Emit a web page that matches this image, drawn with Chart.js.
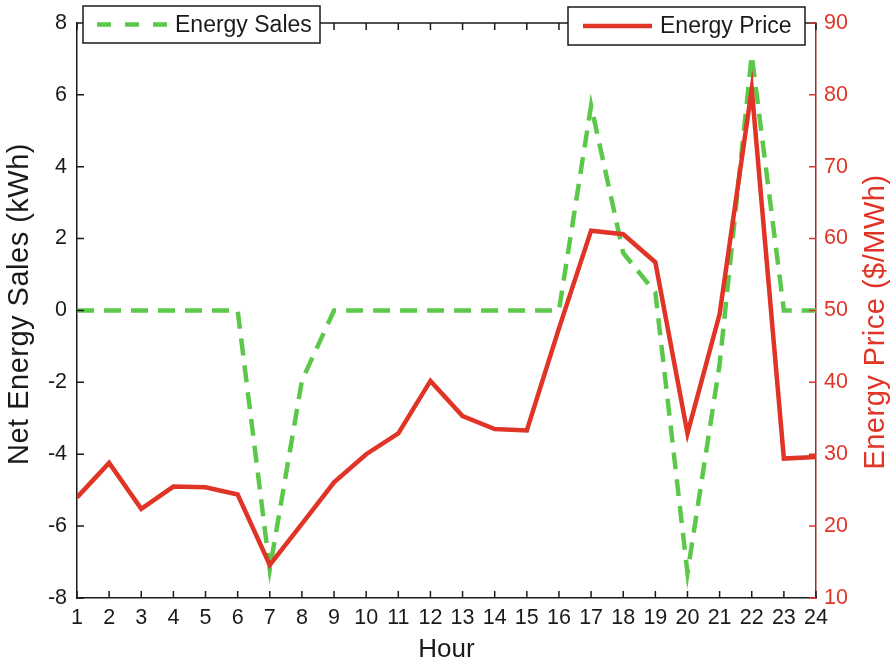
<!DOCTYPE html>
<html>
<head>
<meta charset="utf-8">
<script src="https://cdn.jsdelivr.net/npm/chart.js@4.4.1/dist/chart.umd.min.js"></script>
<style>
  html, body { margin: 0; padding: 0; background: #fff; }
  #wrap { width: 891px; height: 663px; }
</style>
</head>
<body>
<div id="wrap"><canvas id="chart" width="891" height="663"></canvas></div>
<script>
// data
const hours = [1, 2, 3, 4, 5, 6, 7, 8, 9, 10, 11, 12, 13, 14, 15, 16, 17, 18, 19, 20, 21, 22, 23, 24];
const salesKWh = [0, 0, 0, 0, 0, 0, -7.2, -1.95, 0, 0, 0, 0, 0, 0, 0, 0, 5.7, 1.6, 0.5, -7.3, -1.5, 7.1, 0, 0];
const priceMWh = [24.0, 28.8, 22.4, 25.5, 25.4, 24.4, 14.6, 20.3, 26.1, 30.0, 32.9, 40.2, 35.3, 33.5, 33.3, 47.5,
                  61.1, 60.6, 56.7, 32.9, 49.5, 80.8, 29.4, 29.6];
const salesTicks = [-8, -6, -4, -2, 0, 2, 4, 6, 8];
const priceTicks = [10, 20, 30, 40, 50, 60, 70, 80, 90];

const FONT = "'Liberation Sans', Arial, Helvetica, sans-serif";
const BLACK = '#1a1a1a';
const GREEN = '#5cc84a';
const RED = '#e03427';
const DARKRED = '#9b2f27';

const toPoints = (ys) => hours.map((h, i) => ({ x: h, y: ys[i] }));
const fixTicks = (list) => (scale) => { scale.ticks = list.map(v => ({ value: v })); };

// MATLAB style frame: top edge plus ticks pointing inward
const framePlugin = {
    id: 'frame',
    afterDatasetsDraw(chart) {
        const { ctx, chartArea: a, scales } = chart;
        ctx.save();
        ctx.lineWidth = 1.5;
        ctx.strokeStyle = BLACK;
        ctx.beginPath();
        ctx.moveTo(a.left, a.top);
        ctx.lineTo(a.right, a.top);
        hours.forEach(h => {
            const x = scales.x.getPixelForValue(h);
            ctx.moveTo(x, a.bottom); ctx.lineTo(x, a.bottom - 7);
            ctx.moveTo(x, a.top); ctx.lineTo(x, a.top + 7);
        });
        salesTicks.forEach(v => {
            const y = scales.y.getPixelForValue(v);
            ctx.moveTo(a.left, y); ctx.lineTo(a.left + 7, y);
        });
        ctx.stroke();
        ctx.strokeStyle = RED;
        ctx.beginPath();
        priceTicks.forEach(v => {
            const y = scales.y1.getPixelForValue(v);
            ctx.moveTo(a.right, y); ctx.lineTo(a.right - 7, y);
        });
        ctx.stroke();
        ctx.restore();
    }
};

// rotated axis titles (a bit larger than the horizontal text in the original)
function vTitle(ctx, text, x, y, color) {
    ctx.save();
    ctx.translate(x, y);
    ctx.rotate(-Math.PI / 2);
    ctx.font = '29px ' + FONT;
    ctx.letterSpacing = '0.5px';
    ctx.fillStyle = color;
    ctx.textAlign = 'center';
    ctx.textBaseline = 'middle';
    ctx.fillText(text, 0, 0);
    ctx.restore();
}

// two separate legend boxes, like the original
function legendBox(ctx, x0, y0, x1, y1, label, color, dash, lineFrom, lineTo, textX) {
    const cy = (y0 + y1) / 2;
    ctx.fillStyle = '#fff';
    ctx.fillRect(x0, y0, x1 - x0, y1 - y0);
    ctx.lineWidth = 1.5;
    ctx.strokeStyle = BLACK;
    ctx.setLineDash([]);
    ctx.strokeRect(x0, y0, x1 - x0, y1 - y0);
    ctx.lineWidth = 4.5;
    ctx.strokeStyle = color;
    ctx.setLineDash(dash);
    ctx.beginPath();
    ctx.moveTo(lineFrom, cy);
    ctx.lineTo(lineTo, cy);
    ctx.stroke();
    ctx.setLineDash([]);
    ctx.fillStyle = BLACK;
    ctx.font = '23px ' + FONT;
    ctx.textBaseline = 'middle';
    ctx.textAlign = 'left';
    ctx.fillText(label, textX, cy + 1);
}

const overlayPlugin = {
    id: 'overlay',
    afterDraw(chart) {
        const ctx = chart.ctx;
        ctx.save();
        vTitle(ctx, 'Net Energy Sales (kWh)', 20, 304, BLACK);
        vTitle(ctx, 'Energy Price ($/MWh)', 876, 322, RED);
        legendBox(ctx, 83, 6, 320, 43, 'Energy Sales', GREEN, [14, 14], 97, 167, 175);
        legendBox(ctx, 568, 7, 805, 45, 'Energy Price', RED, [], 583, 652, 660);
        ctx.restore();
    }
};

new Chart(document.getElementById('chart'), {
    type: 'line',
    data: {
        datasets: [
            {
                label: 'Energy Price',
                data: toPoints(priceMWh),
                yAxisID: 'y1',
                borderColor: RED,
                borderWidth: 4.5,
                pointRadius: 0,
                tension: 0,
                order: 0
            },
            {
                label: 'Energy Sales',
                data: toPoints(salesKWh),
                yAxisID: 'y',
                borderColor: GREEN,
                borderWidth: 4.5,
                borderDash: [17, 10],
                pointRadius: 0,
                tension: 0,
                order: 1
            }
        ]
    },
    options: {
        responsive: false,
        animation: false,
        devicePixelRatio: 1,
        layout: { padding: { top: 16, left: 0, right: 0, bottom: 0 } },
        plugins: {
            legend: { display: false },
            tooltip: { enabled: false }
        },
        scales: {
            x: {
                type: 'linear',
                min: 1,
                max: 24,
                afterBuildTicks: fixTicks(hours),
                afterFit: (s) => { s.height = 65; },
                grid: { display: false, drawTicks: false },
                border: { display: true, color: BLACK, width: 1.5 },
                ticks: { color: BLACK, padding: 7, maxRotation: 0, autoSkip: false, font: { family: FONT, size: 21.5 } },
                title: { display: true, text: 'Hour', color: BLACK, padding: { top: 0, bottom: 0 }, font: { family: FONT, size: 26, lineHeight: 1.05 } }
            },
            y: {
                position: 'left',
                min: -8,
                max: 8,
                afterBuildTicks: fixTicks(salesTicks),
                afterFit: (s) => { s.width = 77; },
                grid: { display: false, drawTicks: false },
                border: { display: true, color: BLACK, width: 1.5 },
                ticks: { color: BLACK, padding: 10, font: { family: FONT, size: 21.5 } },
                title: { display: false }
            },
            y1: {
                position: 'right',
                min: 10,
                max: 90,
                afterBuildTicks: fixTicks(priceTicks),
                afterFit: (s) => { s.width = 75; },
                grid: { display: false, drawTicks: false },
                border: { display: true, color: DARKRED, width: 1.5 },
                ticks: { color: RED, padding: 8, font: { family: FONT, size: 21.5 } },
                title: { display: false }
            }
        }
    },
    plugins: [framePlugin, overlayPlugin]
});
</script>
</body>
</html>
